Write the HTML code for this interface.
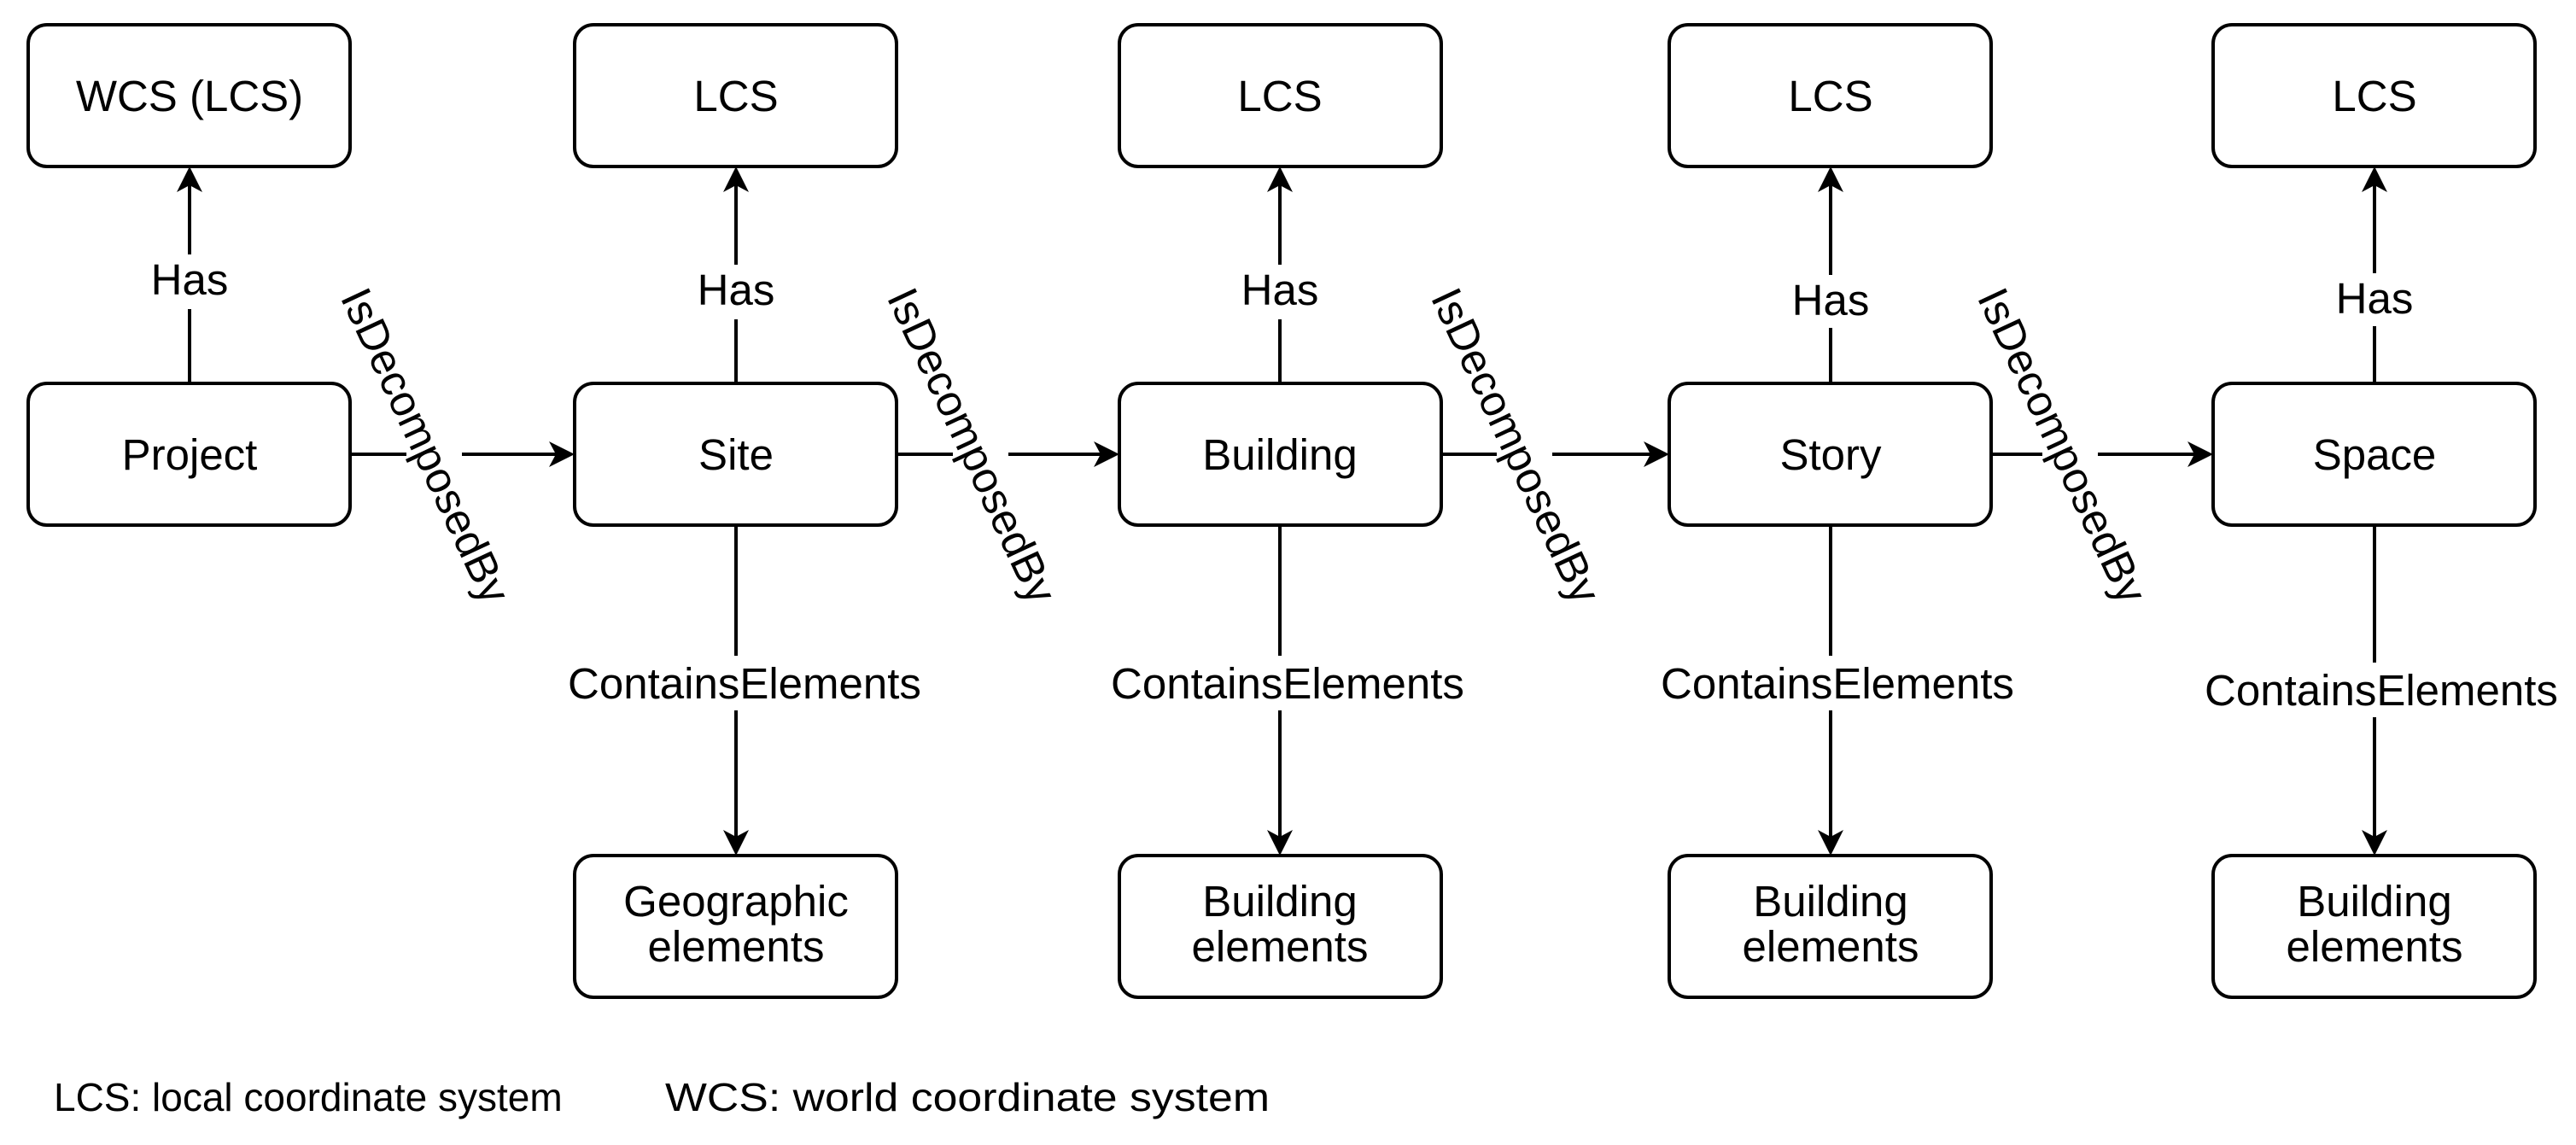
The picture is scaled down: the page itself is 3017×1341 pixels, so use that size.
<!DOCTYPE html>
<html><head><meta charset="utf-8"><style>
html,body{margin:0;padding:0;background:#fff;}
svg{display:block;}
text{font-family:"Liberation Sans",Arial,sans-serif;fill:#000;}
</style></head><body>
<svg width="3017" height="1341" viewBox="0 0 3017 1341" xmlns="http://www.w3.org/2000/svg">
<g fill="none" stroke="#000" stroke-width="4">
<rect x="33" y="29" width="377" height="166" rx="22"/>
<rect x="33" y="449" width="377" height="166" rx="22"/>
<rect x="673" y="29" width="377" height="166" rx="22"/>
<rect x="673" y="449" width="377" height="166" rx="22"/>
<rect x="673" y="1002" width="377" height="166" rx="22"/>
<rect x="1311" y="29" width="377" height="166" rx="22"/>
<rect x="1311" y="449" width="377" height="166" rx="22"/>
<rect x="1311" y="1002" width="377" height="166" rx="22"/>
<rect x="1955" y="29" width="377" height="166" rx="22"/>
<rect x="1955" y="449" width="377" height="166" rx="22"/>
<rect x="1955" y="1002" width="377" height="166" rx="22"/>
<rect x="2592" y="29" width="377" height="166" rx="22"/>
<rect x="2592" y="449" width="377" height="166" rx="22"/>
<rect x="2592" y="1002" width="377" height="166" rx="22"/>
</g>

<g stroke="#000" stroke-width="4" fill="none">
<line x1="222" y1="449" x2="222" y2="362"/><line x1="222" y1="298" x2="222" y2="215"/>
<line x1="862" y1="449" x2="862" y2="374"/><line x1="862" y1="310" x2="862" y2="215"/>
<line x1="1499" y1="449" x2="1499" y2="374"/><line x1="1499" y1="310" x2="1499" y2="215"/>
<line x1="2144" y1="449" x2="2144" y2="384"/><line x1="2144" y1="322" x2="2144" y2="215"/>
<line x1="2781" y1="449" x2="2781" y2="382"/><line x1="2781" y1="320" x2="2781" y2="215"/>
<line x1="862" y1="615" x2="862" y2="768"/><line x1="862" y1="832" x2="862" y2="985"/>
<line x1="1499" y1="615" x2="1499" y2="768"/><line x1="1499" y1="832" x2="1499" y2="985"/>
<line x1="2144" y1="615" x2="2144" y2="768"/><line x1="2144" y1="832" x2="2144" y2="985"/>
<line x1="2781" y1="615" x2="2781" y2="776"/><line x1="2781" y1="840" x2="2781" y2="985"/>
<line x1="410" y1="532" x2="476" y2="532"/><line x1="541" y1="532" x2="655" y2="532"/>
<line x1="1050" y1="532" x2="1116" y2="532"/><line x1="1181" y1="532" x2="1293" y2="532"/>
<line x1="1688" y1="532" x2="1753" y2="532"/><line x1="1818" y1="532" x2="1937" y2="532"/>
<line x1="2332" y1="532" x2="2392" y2="532"/><line x1="2457" y1="532" x2="2574" y2="532"/>
</g>

<g fill="#000">
<path d="M222 195 l-15 30 l15 -8 l15 8z"/>
<path d="M862 195 l-15 30 l15 -8 l15 8z"/>
<path d="M1499 195 l-15 30 l15 -8 l15 8z"/>
<path d="M2144 195 l-15 30 l15 -8 l15 8z"/>
<path d="M2781 195 l-15 30 l15 -8 l15 8z"/>
<path d="M862 1002 l-15 -30 l15 8 l15 -8z"/>
<path d="M1499 1002 l-15 -30 l15 8 l15 -8z"/>
<path d="M2144 1002 l-15 -30 l15 8 l15 -8z"/>
<path d="M2781 1002 l-15 -30 l15 8 l15 -8z"/>
<path d="M673 532 l-30 -15 l8 15 l-8 15z"/>
<path d="M1311 532 l-30 -15 l8 15 l-8 15z"/>
<path d="M1955 532 l-30 -15 l8 15 l-8 15z"/>
<path d="M2592 532 l-30 -15 l8 15 l-8 15z"/>
</g>

<g font-size="51" text-anchor="middle">
<text x="222" y="130">WCS (LCS)</text>
<text x="222" y="550">Project</text>
<text x="862" y="130">LCS</text>
<text x="862" y="550">Site</text>
<text x="862" y="1073">Geographic</text>
<text x="862" y="1126">elements</text>
<text x="1499" y="130">LCS</text>
<text x="1499" y="550">Building</text>
<text x="1499" y="1073">Building</text>
<text x="1499" y="1126">elements</text>
<text x="2144" y="130">LCS</text>
<text x="2144" y="550">Story</text>
<text x="2144" y="1073">Building</text>
<text x="2144" y="1126">elements</text>
<text x="2781" y="130">LCS</text>
<text x="2781" y="550">Space</text>
<text x="2781" y="1073">Building</text>
<text x="2781" y="1126">elements</text>

<text x="222" y="345">Has</text>
<text x="862" y="357">Has</text>
<text x="1499" y="357">Has</text>
<text x="2144" y="369">Has</text>
<text x="2781" y="367">Has</text>

<text x="872" y="818">ContainsElements</text>
<text x="1508" y="818">ContainsElements</text>
<text x="2152" y="818">ContainsElements</text>
<text x="2789" y="826">ContainsElements</text>

<text transform="translate(498,522) rotate(65)" y="17">IsDecomposedBy</text>
<text transform="translate(1138,522) rotate(65)" y="17">IsDecomposedBy</text>
<text transform="translate(1775,522) rotate(65)" y="17">IsDecomposedBy</text>
<text transform="translate(2415,522) rotate(65)" y="17">IsDecomposedBy</text>
</g>
<g font-size="46">
<text x="63" y="1301">LCS: local coordinate system</text>
<text x="779" y="1301" textLength="708" lengthAdjust="spacingAndGlyphs">WCS: world coordinate system</text>
</g>
</svg>
</body></html>
